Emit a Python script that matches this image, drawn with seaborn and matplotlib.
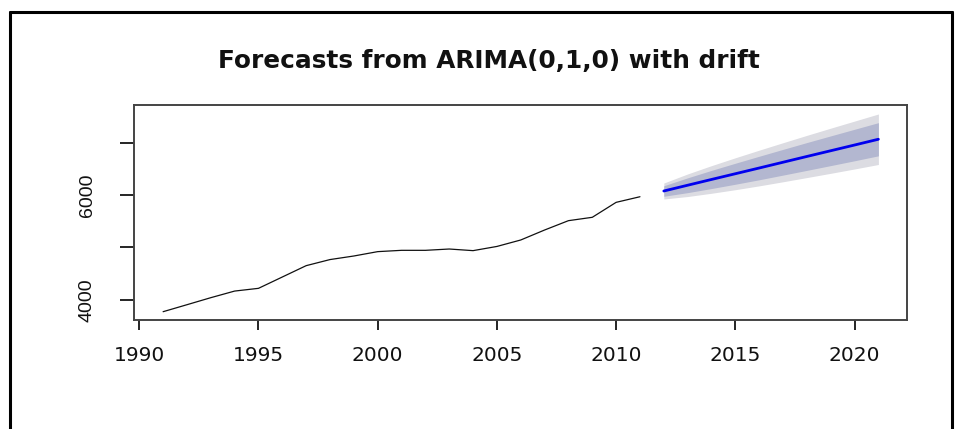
import numpy as np
import pandas as pd
import matplotlib
matplotlib.use("Agg")
import matplotlib.pyplot as plt
from matplotlib.lines import Line2D
import seaborn as sns

# Observed annual series
years = [1991, 1992, 1993, 1994, 1995, 1996, 1997, 1998, 1999, 2000, 2001,
         2002, 2003, 2004, 2005, 2006, 2007, 2008, 2009, 2010, 2011]
values = [3777, 3910, 4044, 4170, 4222, 4438, 4654, 4770, 4838, 4921, 4946,
          4946, 4971, 4940, 5020, 5143, 5333, 5511, 5575, 5860, 5967]

# Point forecasts and prediction intervals
fc_years = [2012, 2013, 2014, 2015, 2016, 2017, 2018, 2019, 2020, 2021]
fc_mean = [6076, 6186, 6296, 6405, 6514, 6624, 6734, 6843, 6952, 7062]
lo80 = [5976, 6045, 6123, 6205, 6290, 6379, 6469, 6560, 6652, 6746]
hi80 = [6176, 6327, 6469, 6605, 6738, 6869, 6999, 7126, 7252, 7378]
lo95 = [5924, 5971, 6033, 6101, 6174, 6252, 6332, 6413, 6496, 6581]
hi95 = [6228, 6401, 6559, 6709, 6854, 6996, 7136, 7273, 7408, 7543]

x_ticks = [1990, 1995, 2000, 2005, 2010, 2015, 2020]
y_ticks = [4000, 5000, 6000, 7000]
y_tick_labels = ["4000", "", "6000", ""]
title = "Forecasts from ARIMA(0,1,0) with drift"

sns.set_theme(style="white")
plt.rcParams["font.family"] = ["DejaVu Sans"]

fig = plt.figure(figsize=(9.6, 4.29), dpi=100)
ax = fig.add_axes([0.1401, 0.2541, 0.8047, 0.5])

hist = pd.DataFrame({"year": years, "value": values})
fc = pd.DataFrame({"year": fc_years, "mean": fc_mean})

ax.fill_between(fc_years, lo95, hi95, color="#DCDCE2", lw=0, zorder=1)
ax.fill_between(fc_years, lo80, hi80, color="#B3B7D0", lw=0, zorder=2)
sns.lineplot(data=hist, x="year", y="value", ax=ax, color="#111111", lw=0.9, zorder=3)
sns.lineplot(data=fc, x="year", y="mean", ax=ax, color="#0000EE", lw=2.0, zorder=4)

ax.set_xlim(1989.8, 2022.2)
ax.set_ylim(3619, 7705)
ax.set_xlabel("")
ax.set_ylabel("")

for s in ax.spines.values():
    s.set_color("#444444")
    s.set_linewidth(1.4)

ax.set_xticks(x_ticks)
ax.set_xticklabels([str(t) for t in x_ticks], fontsize=14.5, color="#111111")
ax.tick_params(axis="x", direction="out", length=7.5, width=1.2, color="black",
               pad=11, bottom=True)
ax.set_yticks(y_ticks)
ax.set_yticklabels(y_tick_labels, rotation=90, va="center",
                   fontfamily="Liberation Sans", fontsize=14, color="#111111")
ax.tick_params(axis="y", direction="out", length=10, width=1.2, color="black",
               pad=18, left=True)

fig.text(489 / 960, (429 - 68) / 429, title, ha="center", va="baseline",
         fontsize=17.8, fontweight="bold", color="#111111")

# Outer frame (left, top, right)
frame_kw = dict(color="black", lw=2.2, transform=fig.transFigure)
fig.add_artist(Line2D([10 / 960, 10 / 960], [0, 1 - 12 / 429], **frame_kw))
fig.add_artist(Line2D([10 / 960, 952 / 960], [1 - 12 / 429, 1 - 12 / 429], **frame_kw))
fig.add_artist(Line2D([952 / 960, 952 / 960], [0, 1 - 12 / 429], **frame_kw))

fig.savefig("out.png", dpi=100)
